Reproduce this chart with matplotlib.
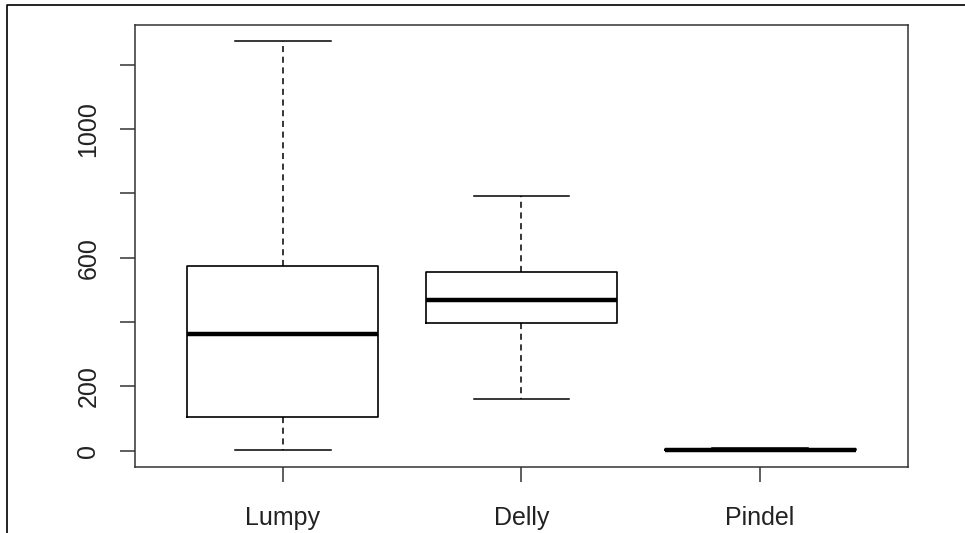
import matplotlib
matplotlib.use('Agg')
import matplotlib.pyplot as plt
from matplotlib.lines import Line2D

# five-number summaries
labels = ['Lumpy', 'Delly', 'Pindel']
whislo = [2, 159, 0]
q1 = [105, 397, 1]
med = [362, 470, 3]
q3 = [574, 555, 5]
whishi = [1273, 793, 8]

stats = [dict(label=l, whislo=a, q1=b, med=c, q3=d, whishi=e)
         for l, a, b, c, d, e in zip(labels, whislo, q1, med, q3, whishi)]

plt.rcParams['font.family'] = ['Liberation Sans', 'DejaVu Sans']

fig = plt.figure(figsize=(9.65, 5.33), dpi=100)
ax = fig.add_axes([135/965, 66/533, 773/965, 442/533])

ax.bxp(stats, positions=[1, 2, 3], widths=0.8, showfliers=False,
       boxprops=dict(color='black', linewidth=1.2),
       medianprops=dict(color='black', linewidth=3.2, solid_capstyle='butt'),
       whiskerprops=dict(color='black', linewidth=1.1, linestyle=(0, (4, 3))),
       capprops=dict(color='black', linewidth=1.1),
       capwidths=0.4)

ax.set_xlim(0.38, 3.62)
ax.set_ylim(-51, 1324)
ax.set_yticks([0, 200, 400, 600, 800, 1000, 1200])
ax.set_yticklabels(['0', '200', '', '600', '', '1000', ''], rotation=90, va='center')
ax.set_xticks([1, 2, 3])
ax.set_xticklabels(labels)
ax.tick_params(axis='both', length=11, width=1.1, color='#333333', labelsize=18, labelcolor='#222222')
ax.tick_params(axis='y', pad=14)
ax.tick_params(axis='x', pad=17)
for s in ax.spines.values():
    s.set_linewidth(1.1)
    s.set_color('#333333')

# outer device border (partly cropped in the reference)
fig.add_artist(Line2D([7/965, 7/965, 1.0], [0.0, 1 - 5/533, 1 - 5/533],
                      transform=fig.transFigure, color='black', linewidth=1.2))

plt.savefig('out.png', dpi=100)
plt.close()
